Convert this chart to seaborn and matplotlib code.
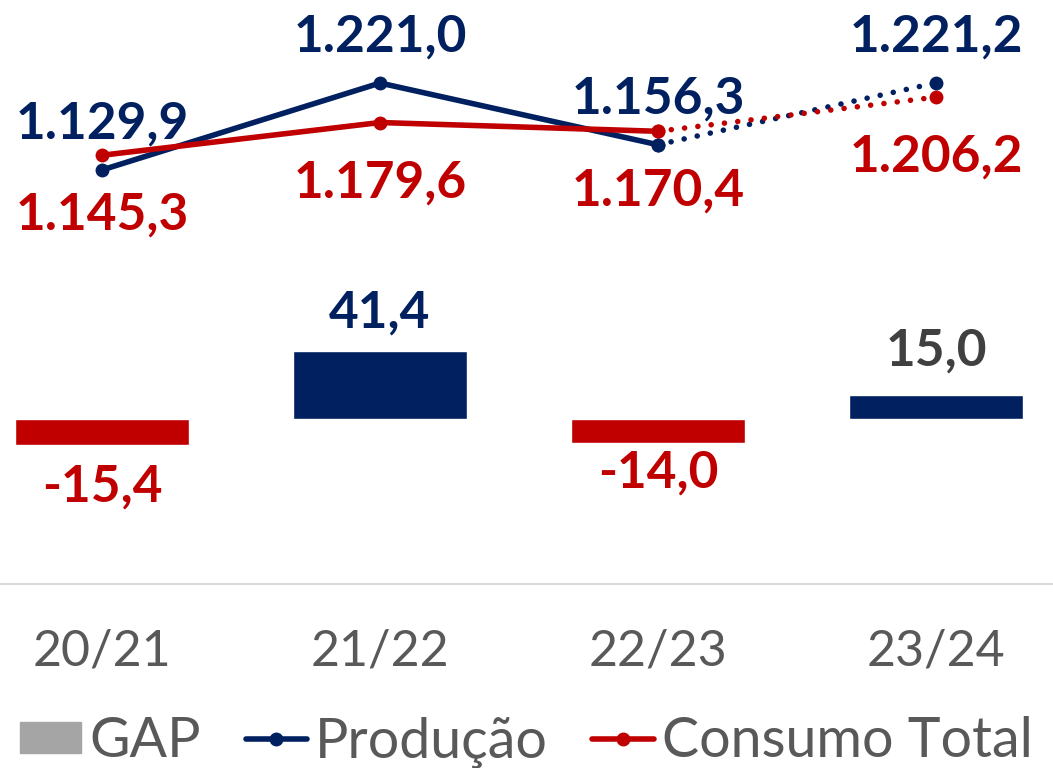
import numpy as np
import pandas as pd
import matplotlib.pyplot as plt
import seaborn as sns
from matplotlib.patches import Patch
from matplotlib.lines import Line2D

# Safras e valores (mil toneladas)
safras = ['20/21', '21/22', '22/23', '23/24']
gap = [-15.4, 41.4, -14.0, 15.0]
producao = [1129.9, 1221.0, 1156.3, 1221.2]
consumo = [1145.3, 1179.6, 1170.4, 1206.2]

NAVY = '#002060'
RED = '#C00000'
GRAY_TXT = '#595959'


def br(v):
    # formato brasileiro: 1.221,0
    s = f'{v:,.1f}'
    return s.replace(',', 'X').replace('.', ',').replace('X', '.')


sns.set_theme(style='white')
plt.rcParams['font.family'] = ['Lato', 'DejaVu Sans']

fig = plt.figure(figsize=(10.53, 7.68), dpi=100)
ax = fig.add_axes([0, 0.2396, 1, 0.7604])

df = pd.DataFrame({'Safra': safras, 'GAP': gap})
df['sinal'] = np.where(df['GAP'] < 0, 'neg', 'pos')

sns.barplot(data=df, x='Safra', y='GAP', hue='sinal',
            palette={'neg': RED, 'pos': NAVY}, width=0.626, saturation=1,
            dodge=False, legend=False, ax=ax)

ax.set_xlim(-0.367, 3.421)
ax.set_ylim(-100, 255)

# rótulos das barras (offset em pontos)
bar_colors = [RED, NAVY, RED, '#404040']
bar_offsets = [-27, 31, -19, 35]
for i, v in enumerate(gap):
    ax.annotate(br(v), (i, v), xytext=(0, bar_offsets[i]),
                textcoords='offset points', ha='center', va='center_baseline',
                fontsize=37, fontweight='bold', color=bar_colors[i])

# linhas no eixo secundário (último trecho pontilhado = projeção)
ax2 = ax.twinx()
x = np.arange(len(safras))
for vals, col in [(producao, NAVY), (consumo, RED)]:
    sns.lineplot(x=x[:3], y=vals[:3], color=col, lw=4, marker='o',
                 markersize=10, markeredgewidth=0, ax=ax2)
    sns.lineplot(x=x[2:], y=vals[2:], color=col, lw=4,
                 linestyle=(0, (0.01, 2.4)), dash_capstyle='round',
                 marker='o', markersize=10, markeredgewidth=0, ax=ax2)
ax2.set_ylim(696, 1308)
ax2.set_xlim(-0.367, 3.421)

for i, v in enumerate(producao):
    ax2.annotate(br(v), (i, v), xytext=(0, 36), textcoords='offset points',
                 ha='center', va='center_baseline', fontsize=37,
                 fontweight='bold', color=NAVY)
for i, v in enumerate(consumo):
    ax2.annotate(br(v), (i, v), xytext=(0, -40), textcoords='offset points',
                 ha='center', va='center_baseline', fontsize=37,
                 fontweight='bold', color=RED)

for a in (ax, ax2):
    for s in ['top', 'left', 'right', 'bottom']:
        a.spines[s].set_visible(False)
    a.set_yticks([])
    a.set_ylabel('')
ax.spines['bottom'].set_visible(True)
ax.spines['bottom'].set_color('#D9D9D9')
ax.spines['bottom'].set_linewidth(1.5)
ax.set_xlabel('')
ax.tick_params(axis='x', length=0, pad=32, labelsize=36, labelcolor=GRAY_TXT)

handles = [
    Patch(color='#A5A5A5', label='GAP'),
    Line2D([], [], color=NAVY, lw=4, marker='o', ms=9, label='Produção'),
    Line2D([], [], color=RED, lw=4, marker='o', ms=9, label='Consumo Total'),
]
fig.legend(handles=handles, loc='center', bbox_to_anchor=(0.5, 0.034),
           ncol=3, frameon=False, fontsize=40, labelcolor=GRAY_TXT,
           handlelength=1.1, handleheight=0.5, handletextpad=0.15,
           columnspacing=0.8, borderpad=0, borderaxespad=0)

fig.savefig('out.png', dpi=100)
